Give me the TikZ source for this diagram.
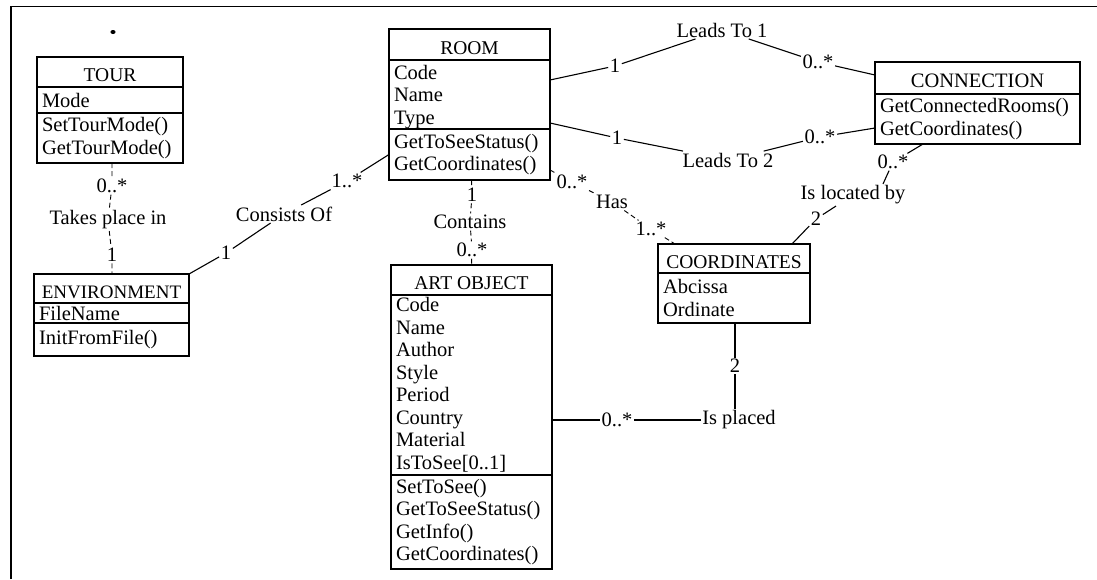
\documentclass[tikz,border=0pt]{standalone}
\usepackage{fontspec}
\setmainfont{Liberation Serif}
\hyphenpenalty=10000
\exhyphenpenalty=10000
\begin{document}
\begin{tikzpicture}[x=1pt,y=-1pt,
  every node/.style={font=\fontsize{20.5}{22.5}\selectfont},
  cell/.style={draw, line width=1.1pt, anchor=north west, outer sep=0pt},
  head/.style={cell, inner sep=0pt, text height=19pt, text depth=0pt, align=center,
    font=\fontsize{19.5}{22.5}\selectfont},
  list/.style={cell, inner xsep=5pt, inner ysep=0pt, align=left},
  lbl/.style={inner sep=1.5pt},
  link/.style={line width=1.1pt},
  weak/.style={line width=0.9pt, dash pattern=on 5pt off 3pt},
]
\useasboundingbox (0,0) rectangle (1097,579);

% page frame and stray mark
\draw[line width=1.6pt] (11,579) -- (11,6.5) -- (1097,6.5);
\fill (113,32) ellipse (2.6pt and 2pt);

% ---------- classes ----------
% TOUR
\node[head, minimum width=146pt, minimum height=30pt] (tour) at (37,57) {TOUR};
\node[list, text width=136pt, minimum height=26pt] (tourA) at (tour.south west) {Mode};
\node[list, text width=136pt, minimum height=50pt] (tourM) at (tourA.south west) {SetTourMode()\\GetTourMode()};

% ENVIRONMENT
\node[head, minimum width=155pt, minimum height=29pt, font=\fontsize{19}{22.5}\selectfont] (env) at (34,274) {ENVIRONMENT};
\node[list, text width=145pt, minimum height=20pt] (envA) at (env.south west) {FileName};
\node[list, text width=145pt, minimum height=33pt] (envM) at (envA.south west) {InitFromFile()};

% ROOM
\node[head, minimum width=161pt, minimum height=31pt] (room) at (389,29) {ROOM};
\node[list, text width=151pt, minimum height=69pt] (roomA) at (room.south west) {\rule{0pt}{19pt}Code\\Name\\Type};
\node[list, text width=151pt, minimum height=51pt] (roomM) at (roomA.south west) {GetToSeeStatus()\\GetCoordinates()};

% CONNECTION
\node[head, minimum width=205pt, minimum height=32pt, font=\fontsize{20.5}{22.5}\selectfont] (connT) at (875,62) {CONNECTION};
\node[list, text width=195pt, minimum height=50pt] (connM) at (connT.south west) {GetConnectedRooms()\\GetCoordinates()};

% COORDINATES
\node[head, minimum width=152pt, minimum height=29pt] (coordT) at (658,244) {COORDINATES};
\node[list, text width=142pt, minimum height=50pt] (coordA) at (coordT.south west) {Abcissa\\Ordinate};

% ART OBJECT
\node[head, minimum width=161pt, minimum height=30pt] (art) at (391,265) {ART OBJECT};
\node[list, text width=151pt, minimum height=180pt] (artA) at (art.south west)
  {Code\\Name\\Author\\Style\\Period\\Country\\Material\\IsToSee[0..1]};
\node[list, text width=151pt, minimum height=94pt] (artM) at (artA.south west)
  {SetToSee()\\GetToSeeStatus()\\GetInfo()\\GetCoordinates()};

% ---------- associations ----------
% Takes place in
\node[lbl] (tp0) at (112,186) {0..*};
\node[lbl] (tp) at (108,220) {Takes place in};
\node[lbl] (tp1) at (112,255) {1};
\draw[weak] ([xshift=2pt]tourM.south) -- (tp0) -- (tp) -- (tp1) -- ([xshift=0.5pt]env.north);

% Consists Of
\node[lbl] (co1) at (226,253) {1};
\node[lbl] (co) at (284,214) {Consists Of};
\node[lbl] (co2) at (347,181) {1..*};
\draw[link] (env.north east) -- (co1) -- (co) -- (co2) -- (roomM.west);

% Leads To 1
\node[lbl] (a1) at (615,66) {1};
\node[lbl] (lt1) at (722,30) {Leads To 1};
\node[lbl] (a2) at (818,62) {0..*};
\draw[link] ([yshift=14.5pt]roomA.east) -- (a1) -- (lt1) -- (a2) -- ([yshift=3pt]connT.west);

% Leads To 2
\node[lbl] (b1) at (617,138) {1};
\node[lbl] (lt2) at (728,160) {Leads To 2};
\node[lbl] (b2) at (820,137) {0..*};
\draw[link] ([yshift=6pt]roomA.south east) -- (b1) -- (lt2) -- (b2) -- ([yshift=-9pt]connM.west);

% Is located by
\node[lbl] (c1) at (893,162) {0..*};
\node[lbl] (loc) at (853,195) {Is located by};
\node[lbl] (c2) at (816,219) {2};
\draw[link] ([xshift=48pt]connM.south west) -- (c1) -- ([xshift=30pt]loc.north);
\draw[link] (loc) -- (c2) -- ([xshift=-18pt]coordT.north east);

% Has
\node[lbl] (h0) at (572,182) {0..*};
\node[lbl] (has) at (612,202) {Has};
\node[lbl] (h1) at (651,229) {1..*};
\draw[weak] ([yshift=10pt]roomM.south east) -- (h0) -- (has) -- (h1) -- ([xshift=17pt]coordT.north west);

% Contains
\node[lbl] (k1) at (472,195) {1};
\node[lbl] (con) at (470,222) {Contains};
\node[lbl] (k2) at (472,250) {0..*};
\draw[weak] ([xshift=2pt]roomM.south) -- (k1) -- (con) -- (k2) -- (art.north);

% Is placed
\node[lbl] (p1) at (617,420) {0..*};
\node[lbl] (pl) at (739,420) {Is placed};
\node[lbl] (p2) at (735,366) {2};
\draw[link] ([yshift=-35pt]artA.east) -- (p1) -- (pl);
\draw[link] (pl.north -| p2) -- (p2) -- (p2 |- coordA.south);
\end{tikzpicture}
\end{document}
